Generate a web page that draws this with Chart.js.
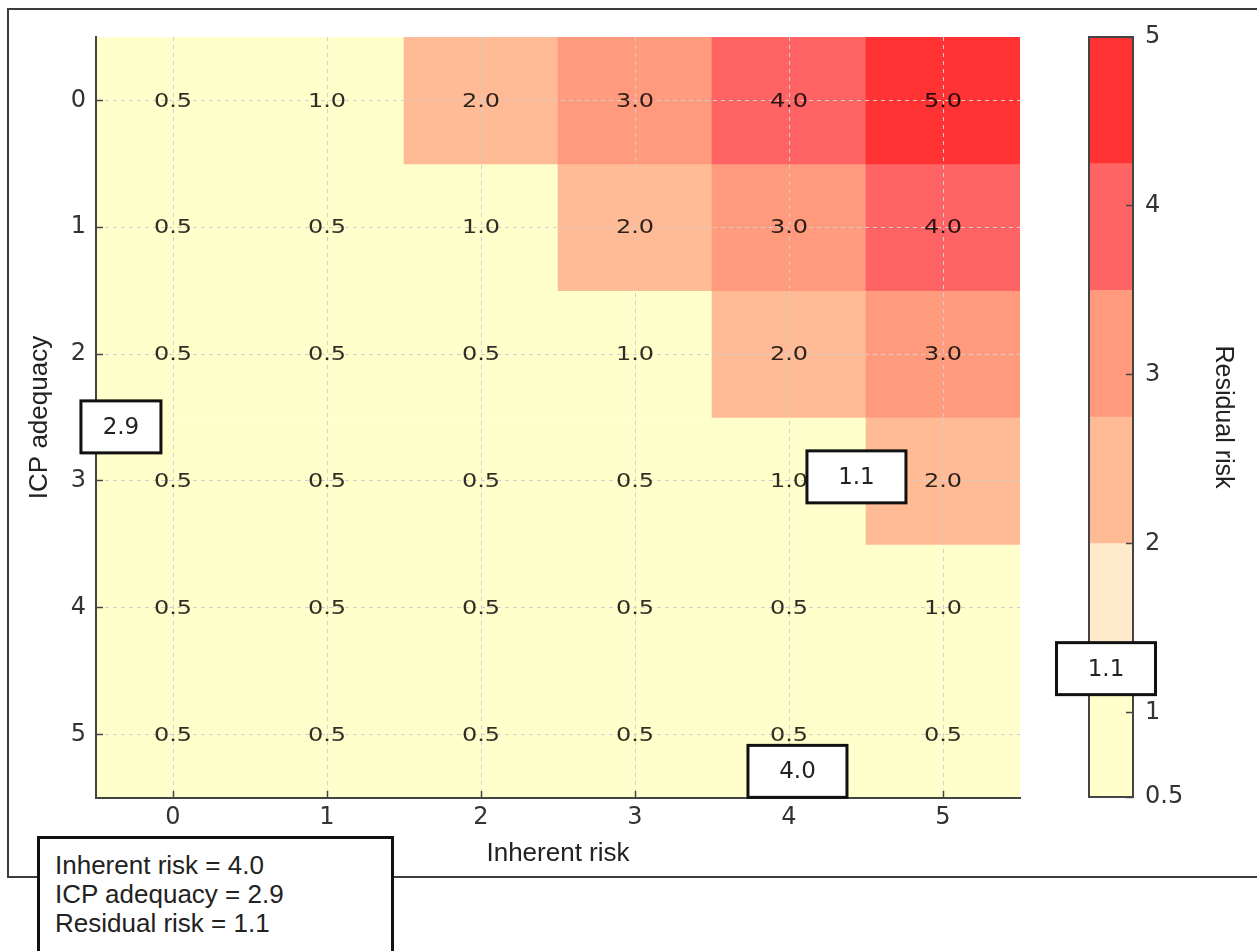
<!DOCTYPE html>
<html>
<head>
<meta charset="utf-8">
<script src="https://cdn.jsdelivr.net/npm/chart.js@4/dist/chart.umd.min.js"></script>
<style>
html,body{margin:0;padding:0;background:#fff;width:1257px;height:951px;overflow:hidden;position:relative}
#frame{position:absolute;left:7px;top:8px;width:1270px;height:866px;border:2px solid #3d3d3d;border-right:none}
#main{position:absolute;left:0;top:0}
#cbar{position:absolute;left:1040px;top:0}
#info{position:absolute;left:37px;top:836px;width:357px;height:140px;box-sizing:border-box;border:3px solid #111;background:#fff;
  font-family:"Liberation Sans",Arial,sans-serif;font-size:26px;line-height:29px;color:#222;padding:12px 0 0 15px;white-space:nowrap}
</style>
</head>
<body>
<div id="frame"></div>
<canvas id="main" width="1257" height="951"></canvas>
<canvas id="cbar" width="217" height="951"></canvas>
<div id="info"></div>
<script>
// ---------- data ----------
const inherentLabels = ['0', '1', '2', '3', '4', '5'];   // x categories
const icpLabels = [0, 1, 2, 3, 4, 5];                    // y rows
const row0 = [0.5, 1.0, 2.0, 3.0, 4.0, 5.0];
const row1 = [0.5, 0.5, 1.0, 2.0, 3.0, 4.0];
const row2 = [0.5, 0.5, 0.5, 1.0, 2.0, 3.0];
const row3 = [0.5, 0.5, 0.5, 0.5, 1.0, 2.0];
const row4 = [0.5, 0.5, 0.5, 0.5, 0.5, 1.0];
const row5 = [0.5, 0.5, 0.5, 0.5, 0.5, 0.5];
const colorbarTicks = [0.5, 1, 2, 3, 4, 5];
const bandEdges = [0.5, 1.25, 2.0, 2.75, 3.5, 4.25, 5.0];
const bandColors = ['#ffffcc', '#ffebcc', '#ffbb96', '#ff9a7c', '#ff6464', '#ff3333'];
const inherentRisk = 4.0;
const icpAdequacy = 2.9;
const residualRisk = 1.1;

// ---------- layout of the marker boxes (in axis units) ----------
const markerLayout = {
  inherent: { x: 4.055, y: 5.29, w: 99, h: 52 },
  icp:      { x: -0.338, y: 2.574, w: 80, h: 52 },
  residual: { x: 4.438, y: 2.968, w: 99, h: 52 },
  cbarResidual: { v: 1.26, dx: -5, w: 99, h: 52 }
};

const rows = [row0, row1, row2, row3, row4, row5];
function colorFor(v) {
  for (let i = 0; i < bandColors.length; i++) {
    if (v >= bandEdges[i] && v < bandEdges[i + 1]) return bandColors[i];
  }
  return bandColors[bandColors.length - 1];
}

document.getElementById('info').innerHTML =
  'Inherent risk = ' + inherentRisk.toFixed(1) + '<br>' +
  'ICP adequacy = ' + icpAdequacy.toFixed(1) + '<br>' +
  'Residual risk = ' + residualRisk.toFixed(1);

const tickFont = { family: '"DejaVu Sans", sans-serif', size: 24 };
const titleFont = { family: '"Liberation Sans", Arial, sans-serif', size: 26 };

function drawBox(ctx, cx, cy, w, h, text) {
  ctx.save();
  ctx.fillStyle = '#ffffff';
  ctx.fillRect(cx - w / 2, cy - h / 2, w, h);
  ctx.lineWidth = 3;
  ctx.strokeStyle = '#111';
  ctx.strokeRect(cx - w / 2, cy - h / 2, w, h);
  ctx.fillStyle = '#222';
  ctx.font = '23px "DejaVu Sans", sans-serif';
  ctx.textAlign = 'center';
  ctx.textBaseline = 'middle';
  ctx.fillText(text, cx, cy + 1);
  ctx.restore();
}

const heatLabels = {
  id: 'heatLabels',
  afterDraw(chart) {
    const ctx = chart.ctx;
    const xs = chart.scales.x, ys = chart.scales.y;
    ctx.save();
    ctx.fillStyle = 'rgba(0,0,0,0.82)';
    ctx.font = '20px "DejaVu Sans", sans-serif';
    ctx.textAlign = 'center';
    ctx.textBaseline = 'middle';
    rows.forEach((row, r) => {
      row.forEach((v, c) => {
        const px = xs.getPixelForValue(c);
        const py = ys.getPixelForValue(icpLabels[r]);
        ctx.save();
        ctx.translate(px, py + 1);
        ctx.scale(1.2, 1);
        ctx.fillText(v.toFixed(1), 0, 0);
        ctx.restore();
      });
    });
    ctx.restore();
    const m = markerLayout;
    drawBox(ctx, xs.getPixelForValue(m.icp.x), ys.getPixelForValue(m.icp.y), m.icp.w, m.icp.h, icpAdequacy.toFixed(1));
    drawBox(ctx, xs.getPixelForValue(m.residual.x), ys.getPixelForValue(m.residual.y), m.residual.w, m.residual.h, residualRisk.toFixed(1));
    drawBox(ctx, xs.getPixelForValue(m.inherent.x), ys.getPixelForValue(m.inherent.y), m.inherent.w, m.inherent.h, inherentRisk.toFixed(1));
  }
};

new Chart(document.getElementById('main'), {
  type: 'bar',
  data: {
    labels: inherentLabels,
    datasets: rows.map((row, r) => ({
      label: 'ICP adequacy ' + icpLabels[r],
      data: row.map(() => [icpLabels[r] - 0.5, icpLabels[r] + 0.5]),
      backgroundColor: row.map(colorFor),
      borderWidth: 0,
      grouped: false,
      barPercentage: 1,
      categoryPercentage: 1
    }))
  },
  options: {
    responsive: false,
    animation: false,
    layout: { padding: { left: 0, top: 37, right: 237, bottom: 73 } },
    plugins: { legend: { display: false }, tooltip: { enabled: false } },
    scales: {
      x: {
        type: 'category',
        offset: true,
        grid: { display: true, offset: false, color: '#cfcfcf', lineWidth: 1, z: 1,
                drawTicks: true, tickLength: -7, tickColor: '#444', tickWidth: 1.5 },
        border: { display: true, color: '#444', width: 2, dash: [4, 4], z: 2 },
        ticks: { font: tickFont, color: '#333', padding: 12, maxRotation: 0 },
        title: { display: true, text: 'Inherent risk', font: titleFont, color: '#222', padding: { top: 0, bottom: 9 } },
        afterFit(s) { s.height = 80; }
      },
      y: {
        type: 'linear',
        reverse: true,
        min: -0.5,
        max: 5.5,
        afterBuildTicks(s) { s.ticks = icpLabels.map(v => ({ value: v })); },
        grid: { display: true, color: '#cfcfcf', lineWidth: 1, z: 1,
                drawTicks: true, tickLength: -7, tickColor: '#444', tickWidth: 1.5 },
        border: { display: true, color: '#444', width: 2, dash: [4, 4], z: 2 },
        ticks: { font: tickFont, color: '#333', padding: 17, callback: v => String(v) },
        title: { display: true, text: 'ICP adequacy', font: titleFont, color: '#222', padding: { top: 24, bottom: 0 } },
        afterFit(s) { s.width = 96; }
      }
    }
  },
  plugins: [heatLabels]
});

// ---------- colour bar ----------
const cbarDecor = {
  id: 'cbarDecor',
  afterDatasetsDraw(chart) {
    const { ctx, chartArea: a } = chart;
    ctx.save();
    ctx.lineWidth = 2;
    ctx.strokeStyle = '#444';
    ctx.strokeRect(a.left, a.top, a.right - a.left, a.bottom - a.top);
    ctx.restore();
  },
  afterDraw(chart) {
    const a = chart.chartArea;
    const ys = chart.scales.y;
    const m = markerLayout.cbarResidual;
    drawBox(chart.ctx, (a.left + a.right) / 2 + m.dx, ys.getPixelForValue(m.v), m.w, m.h, residualRisk.toFixed(1));
  }
};

new Chart(document.getElementById('cbar'), {
  type: 'bar',
  data: {
    labels: [''],
    datasets: bandColors.map((c, i) => ({
      label: 'band ' + i,
      data: [[bandEdges[i], bandEdges[i + 1]]],
      backgroundColor: c,
      borderWidth: 0,
      grouped: false,
      barPercentage: 1,
      categoryPercentage: 1
    }))
  },
  options: {
    responsive: false,
    animation: false,
    layout: { padding: { left: 49, top: 37, right: 14, bottom: 154 } },
    plugins: { legend: { display: false }, tooltip: { enabled: false } },
    scales: {
      x: { display: false, offset: true },
      y: {
        type: 'linear',
        position: 'right',
        min: 0.5,
        max: 5,
        afterBuildTicks(s) { s.ticks = colorbarTicks.map(v => ({ value: v })); },
        grid: { display: true, drawOnChartArea: false, drawTicks: true, tickLength: -7, tickColor: '#444', tickWidth: 1.5, z: 1 },
        border: { display: false },
        ticks: { font: tickFont, color: '#333', padding: 19, callback: v => String(v) },
        title: { display: true, text: 'Residual risk', font: { family: '"Liberation Sans", Arial, sans-serif', size: 25 }, color: '#222', padding: { top: 5, bottom: 0 } },
        afterFit(s) { s.width = 110; }
      }
    }
  },
  plugins: [cbarDecor]
});
</script>
</body>
</html>
